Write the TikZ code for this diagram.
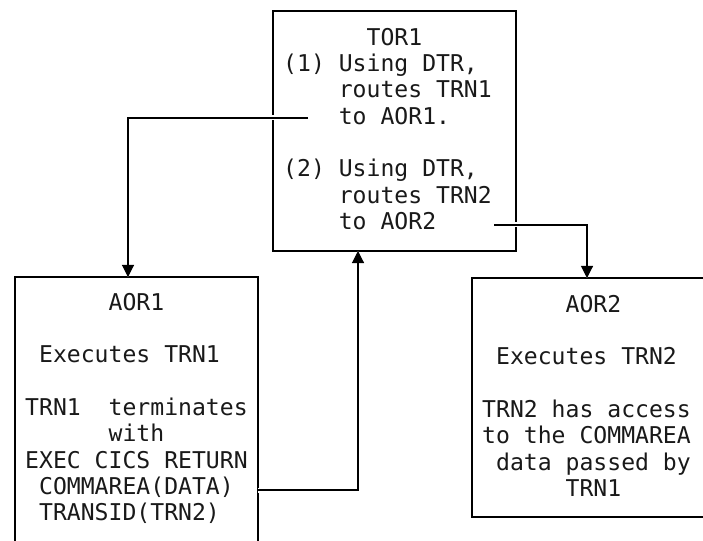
\documentclass[tikz,border=0pt]{standalone}
\usepackage{fontspec}
\setmonofont{DejaVu Sans Mono}
\usetikzlibrary{arrows.meta,calc}
\begin{document}
\begin{tikzpicture}[x=1bp,y=-1bp,
  box/.style={draw,line width=1.1bp,inner sep=0pt,outer sep=0pt,anchor=north west},
  txt/.style={font=\ttfamily\fontsize{23.1bp}{26.3bp}\selectfont,text=black!90,align=left,inner sep=0pt,anchor=north west},
  conn/.style={line width=1.1bp,-{Triangle[width=12bp,length=12bp]},
    preaction={draw=white,line width=5bp,-{Triangle[width=14bp,length=13bp]}}}]
\useasboundingbox (0,0) rectangle (703,541);
\clip (0,0) rectangle (703,541);
\fill[white] (0,0) rectangle (703,541);
\node[box,minimum width=243bp,minimum height=240bp] (tor1) at (273,11) {};
\node[box,minimum width=243bp,minimum height=300bp] (aor1) at (15,277) {};
\node[box,minimum width=260bp,minimum height=239bp] (aor2) at (472,278) {};
\node[txt] (tor1t) at (283,28) {\hphantom{000000}TOR1\\
(1) Using DTR,\\
\hphantom{0000}routes TRN1\\
\hphantom{0000}to AOR1.\\[26.3bp]
(2) Using DTR,\\
\hphantom{0000}routes TRN2\\
\hphantom{0000}to AOR2};
\node[txt] (aor1t) at (25,293) {\hphantom{000000}AOR1\\[26.3bp]
\hphantom{0}Executes TRN1\\[26.3bp]
TRN1\ \ terminates\\
\hphantom{000000}with\\
EXEC CICS RETURN\\
\hphantom{0}COMMAREA(DATA)\\
\hphantom{0}TRANSID(TRN2)};
\node[txt] (aor2t) at (482,295) {\hphantom{000000}AOR2\\[26.3bp]
\hphantom{0}Executes TRN2\\[26.3bp]
TRN2 has access\\
to the COMMAREA\\
\hphantom{0}data passed by\\
\hphantom{000000}TRN1};
\coordinate (s1) at (308,118);
\coordinate (s3) at (494,225);
\draw[conn] (s1) -| ([xshift=113bp]aor1.north west);
\draw[conn] ($(aor1.north east)+(0,213)$) -| ([xshift=85bp]tor1.south west);
\draw[conn] (s3) -| ([xshift=115bp]aor2.north west);
\end{tikzpicture}
\end{document}
